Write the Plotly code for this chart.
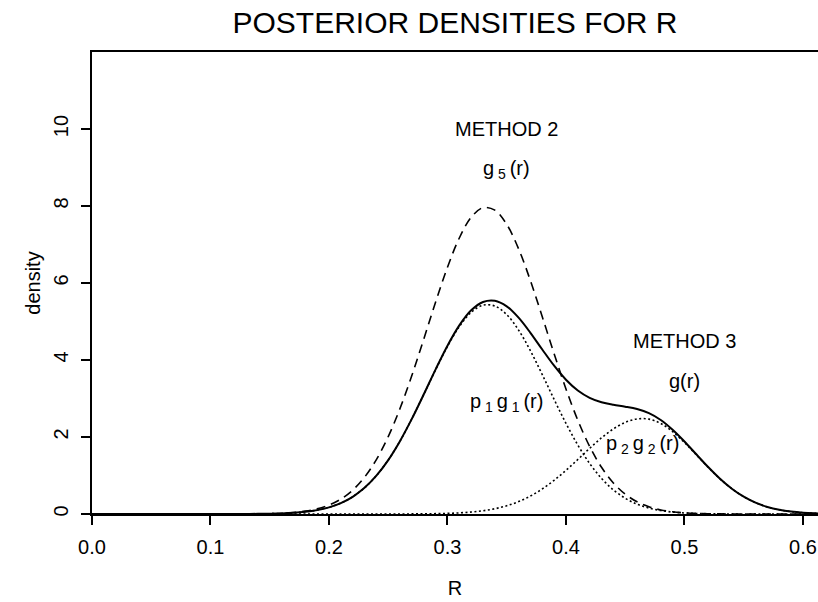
import plotly.graph_objects as go

# grid of R values
r = [0.00, 0.05, 0.10, 0.11, 0.12, 0.13, 0.14, 0.15, 0.16, 0.17, 0.18, 0.19,
     0.20, 0.21, 0.22, 0.23, 0.24, 0.25, 0.26, 0.27, 0.28, 0.29,
     0.30, 0.31, 0.32, 0.33, 0.34, 0.35, 0.36, 0.37, 0.38, 0.39,
     0.40, 0.41, 0.42, 0.43, 0.44, 0.45, 0.46, 0.47, 0.48, 0.49,
     0.50, 0.51, 0.52, 0.53, 0.54, 0.55, 0.56, 0.57, 0.58, 0.59,
     0.60, 0.61, 0.62]

# g(r): METHOD 3 mixture density (solid)
g_mix = [0.000, 0.000, 0.000, 0.000, 0.001, 0.002, 0.004, 0.008, 0.016, 0.031, 0.057, 0.101,
         0.172, 0.283, 0.447, 0.680, 0.995, 1.401, 1.899, 2.477, 3.109, 3.758,
         4.372, 4.898, 5.290, 5.508, 5.539, 5.393, 5.099, 4.706, 4.272, 3.851,
         3.488, 3.207, 3.017, 2.902, 2.836, 2.788, 2.726, 2.620, 2.442, 2.189,
         1.884, 1.551, 1.220, 0.916, 0.657, 0.449, 0.294, 0.183, 0.109, 0.062,
         0.033, 0.017, 0.008]

# g5(r): METHOD 2 density (dashed)
g5 = [0.000, 0.000, 0.000, 0.000, 0.001, 0.002, 0.005, 0.010, 0.020, 0.039, 0.074, 0.133,
      0.232, 0.387, 0.620, 0.955, 1.413, 2.009, 2.746, 3.603, 4.544, 5.506,
      6.410, 7.169, 7.705, 7.956, 7.892, 7.522, 6.889, 6.061, 5.124, 4.162,
      3.248, 2.435, 1.754, 1.214, 0.807, 0.516, 0.316, 0.187, 0.106, 0.058,
      0.030, 0.015, 0.007, 0.003, 0.001, 0.000, 0.000, 0.000, 0.000, 0.000,
      0.000, 0.000, 0.000]

# p1 g1(r): first mixture component (dotted)
p1g1 = [0.000, 0.000, 0.000, 0.000, 0.001, 0.002, 0.004, 0.008, 0.016, 0.031, 0.057, 0.101,
        0.172, 0.283, 0.447, 0.680, 0.995, 1.401, 1.898, 2.475, 3.105, 3.749,
        4.356, 4.869, 5.239, 5.423, 5.402, 5.179, 4.777, 4.240, 3.621, 2.976,
        2.354, 1.791, 1.312, 0.925, 0.627, 0.409, 0.257, 0.155, 0.090, 0.050,
        0.027, 0.014, 0.007, 0.003, 0.001, 0.000, 0.000, 0.000, 0.000, 0.000,
        0.000, 0.000, 0.000]

# p2 g2(r): second mixture component (dotted)
p2g2 = [0.000, 0.000, 0.000, 0.000, 0.000, 0.000, 0.000, 0.000, 0.000, 0.000, 0.000, 0.000,
        0.000, 0.000, 0.000, 0.000, 0.000, 0.000, 0.001, 0.002, 0.004, 0.009,
        0.016, 0.029, 0.051, 0.085, 0.137, 0.214, 0.322, 0.466, 0.651, 0.875,
        1.134, 1.416, 1.705, 1.977, 2.209, 2.379, 2.469, 2.465, 2.352, 2.139,
        1.857, 1.537, 1.213, 0.913, 0.656, 0.449, 0.294, 0.183, 0.109, 0.062,
        0.033, 0.017, 0.008]

x_ticks = [0.0, 0.1, 0.2, 0.3, 0.4, 0.5, 0.6]
x_tick_labels = ["0.0", "0.1", "0.2", "0.3", "0.4", "0.5", "0.6"]
y_ticks = [0, 2, 4, 6, 8, 10]
y_tick_labels = ["0", "2", "4", "6", "8", "10"]

FONT = "Liberation Sans, Arial, Helvetica, sans-serif"
FS = 20

fig = go.Figure()
fig.add_trace(go.Scatter(x=r, y=g5, mode="lines", name="g5(r)",
                         line=dict(color="black", width=1.6, dash="9px,6px", shape="spline")))
fig.add_trace(go.Scatter(x=r, y=p1g1, mode="lines", name="p1g1(r)",
                         line=dict(color="black", width=1.6, dash="2px,2.5px", shape="spline")))
fig.add_trace(go.Scatter(x=r, y=p2g2, mode="lines", name="p2g2(r)",
                         line=dict(color="black", width=1.6, dash="2px,2.5px", shape="spline")))
fig.add_trace(go.Scatter(x=r, y=g_mix, mode="lines", name="g(r)",
                         line=dict(color="black", width=2, shape="spline")))

ann_font = dict(family=FONT, size=FS, color="black")
annotations = [
    dict(x=0.35, y=10.0, text="METHOD 2"),
    dict(x=0.35, y=8.95, text="g<sub> 5 </sub>(r)"),
    dict(x=0.50, y=4.5, text="METHOD 3"),
    dict(x=0.50, y=3.45, text="g(r)"),
    dict(x=0.35, y=2.9, text="p<sub> 1 </sub>g<sub> 1 </sub>(r)"),
    dict(x=0.465, y=1.8, text="p<sub> 2 </sub>g<sub> 2 </sub>(r)"),
]
for a in annotations:
    a.update(xref="x", yref="y", showarrow=False, font=ann_font,
             xanchor="center", yanchor="middle")

fig.update_layout(
    width=818, height=602,
    margin=dict(l=92, r=0, t=52, b=88, autoexpand=False),
    paper_bgcolor="white", plot_bgcolor="white",
    showlegend=False,
    title=dict(text="POSTERIOR DENSITIES FOR R", x=0.5, xref="paper", xanchor="center",
               y=1 - 22 / 602, yref="container", yanchor="middle",
               font=dict(family=FONT, size=30, color="black")),
    annotations=annotations,
    font=dict(family=FONT, size=FS, color="black"),
)

fig.update_xaxes(range=[0, 0.6127], tickmode="array", tickvals=x_ticks, ticktext=x_tick_labels,
                 showgrid=False, zeroline=False, showline=True, linecolor="black", linewidth=1.5,
                 mirror=True, ticks="outside", ticklen=9, tickwidth=1.5, tickcolor="black",
                 ticklabelstandoff=5,
                 tickfont=dict(family=FONT, size=FS, color="black"),
                 title=dict(text="R", font=dict(family=FONT, size=FS, color="black"), standoff=24))
fig.update_yaxes(range=[0, 12], tickmode="array", tickvals=y_ticks, ticktext=y_tick_labels,
                 showgrid=False, zeroline=False, showline=True, linecolor="black", linewidth=1.5,
                 mirror=False, ticks="outside", ticklen=9, tickwidth=1.5, tickcolor="black",
                 tickangle=-90, ticklabelstandoff=5,
                 tickfont=dict(family=FONT, size=FS, color="black"),
                 title=dict(text="density", font=dict(family=FONT, size=FS, color="black"), standoff=4))

fig.write_html("out.html",
               config={"displayModeBar": False},
               post_script="document.body.style.margin='0';document.body.style.overflow='hidden';")
